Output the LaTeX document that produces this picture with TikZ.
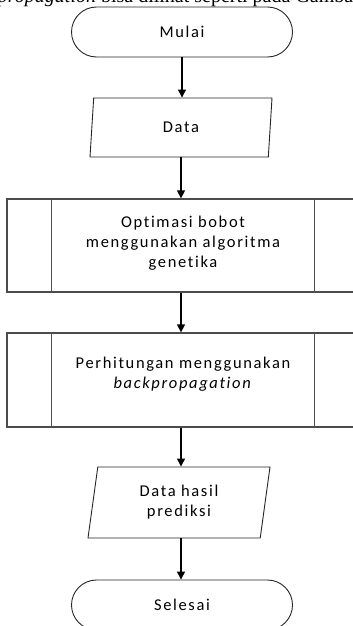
\documentclass[tikz,border=0pt]{standalone}
\usepackage{fontspec}
\newfontfamily\boxfont[LetterSpace=10, Ligatures=NoCommon]{Carlito}
\newfontfamily\bodyfont{Liberation Serif}
\usetikzlibrary{arrows.meta,shapes.geometric}

\begin{document}
\begin{tikzpicture}[x=1pt, y=-1pt,
  % Node styles
  term/.style={draw=black!85, line width=0.9pt, rounded corners=25pt,
               minimum width=221pt, minimum height=50pt, inner sep=0pt,
               font=\boxfont\fontsize{16.5}{20}\selectfont, align=center},
  io/.style={draw=black!85, line width=0.9pt, trapezium, trapezium stretches body,
             trapezium left angle=71, trapezium right angle=109,
             minimum width=182pt, inner sep=0pt,
             font=\boxfont\fontsize{16.5}{20}\selectfont, align=center},
  proc/.style={draw=black!70, line width=1.3pt, minimum width=352pt, inner sep=0pt,
               font=\boxfont\fontsize{16.5}{20}\selectfont, align=center},
  procline/.style={draw=black!70, line width=1.3pt},
  % Arrow style
  flow/.style={-{Triangle[length=8pt, width=8pt]}, line width=1.3pt, black},
  toptext/.style={font=\bodyfont\fontsize{20}{24}\selectfont, inner sep=0pt},
]

\useasboundingbox (0,0) rectangle (353,626);
\clip (0,0) rectangle (353,626);
\fill[white] (0,0) rectangle (353,626);

% === Cut-off line of body text ===
\node[toptext, anchor=base west] (intro) at (-40,3)
  {\textit{backpropagation} bisa dilihat seperti pada Gambar};

% === Flow nodes ===
\node[term] (mulai) at (182,32) {Mulai};
\node[io, minimum height=59pt] (data) at (181,127.5) {Data};
\node[proc, minimum height=93pt] (optim) at (183,245.5)
  {Optimasi bobot\\menggunakan algoritma\\genetika\\[-12pt]};
\node[proc, minimum height=94pt] (bp) at (183,380)
  {Perhitungan menggunakan\\\textit{backpropagation}\\[-6pt]};
\node[io, minimum height=71pt, trapezium left angle=74, trapezium right angle=106]
  (hasil) at (179,502.5) {Data hasil\\prediksi};
\node[term] (selesai) at (182,605) {Selesai};

% === Sub-process side bars ===
\draw[procline] ([xshift=45pt]optim.north west) -- ([xshift=45pt]optim.south west);
\draw[procline] ([xshift=-45pt]optim.north east) -- ([xshift=-45pt]optim.south east);
\draw[procline] ([xshift=45pt]bp.north west) -- ([xshift=45pt]bp.south west);
\draw[procline] ([xshift=-45pt]bp.north east) -- ([xshift=-45pt]bp.south east);

% === Arrows ===
\draw[flow] (mulai.south) -- (mulai.south |- data.north);
\draw[flow] (data.south) -- (data.south |- optim.north);
\draw[flow] (optim.south -| data.south) -- (data.south |- bp.north);
\draw[flow] (bp.south -| data.south) -- (data.south |- hasil.north);
\draw[flow] (hasil.south -| data.south) -- (data.south |- selesai.north);

\end{tikzpicture}
\end{document}
